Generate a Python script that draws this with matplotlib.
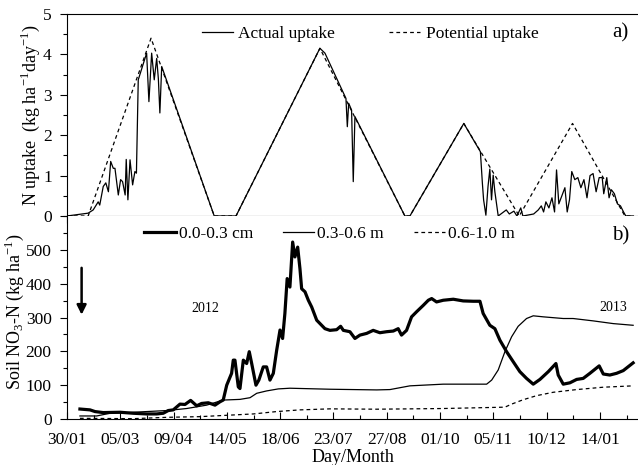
import numpy as np
import matplotlib
matplotlib.use("Agg")
from matplotlib import pyplot as plt
from matplotlib.ticker import MultipleLocator

plt.rcParams['font.family'] = ['Liberation Serif', 'DejaVu Serif']
plt.rcParams['mathtext.fontset'] = 'custom'
plt.rcParams['mathtext.rm'] = 'Liberation Serif'

# days after 30/01/2012
date_ticks = [0, 35, 70, 105, 140, 175, 210, 245, 280, 315, 350]
date_labels = ['30/01', '05/03', '09/04', '14/05', '18/06', '23/07',
               '27/08', '01/10', '05/11', '10/12', '14/01']

# a) N uptake (kg ha-1 day-1)
pot_day = [0, 13.9, 55.2, 96.7, 111.0, 166.1, 221.9, 225.2, 260.6, 297.0, 332.0, 366.4, 372]
pot_val = [0, 0, 4.4, 0, 0, 4.15, 0, 0, 2.29, 0, 2.29, 0, 0]

act_day = [0, 13.9, 17.2, 20.5, 21.5, 23.8, 25.5, 27.2, 28.7, 30.4, 31.5, 33.7, 35.2,
           36.5, 38.2, 38.9, 40.0, 41.4, 43.1, 44.6, 45.6, 46.8, 52.3, 53.8, 55.6,
           57.3, 58.9, 60.0, 61.0, 62.2, 96.7, 111.0, 166.1, 169.4, 183.2, 184.1,
           185.0, 186.9, 188.0, 189.1, 221.9, 225.2, 260.6, 271.5, 272.8, 273.6,
           275.1, 276.5, 277.7, 278.8, 279.9, 281.0, 283.2, 288.5, 290.5, 293.5,
           295.5, 298.0, 299.4, 306.5, 309.5, 311.5, 313.0, 314.5, 316.5, 318.5,
           320.2, 321.5, 323.0, 325.0, 327.0, 328.5, 330.0, 331.5, 333.5, 335.5,
           337.5, 339.5, 341.5, 343.5, 345.5, 347.5, 349.5, 351.5, 352.5, 354.5,
           356.0, 357.5, 359.5, 361.5, 363.5, 365.5, 367.0, 372]
act_val = [0, 0.07, 0.15, 0.35, 0.27, 0.73, 0.82, 0.6, 1.35, 1.18, 1.18, 0.52, 0.9,
           0.85, 0.52, 1.4, 0.4, 1.39, 0.77, 1.1, 1.06, 3.37, 4.03, 2.83, 4.03,
           3.37, 3.9, 3.4, 2.55, 3.7, 0, 0, 4.15, 4.03, 2.91, 2.21,
           2.79, 2.62, 0.85, 2.46, 0, 0, 2.29, 1.59, 0.81, 0.4,
           0.02, 0.73, 1.16, 0.4, 1.01, 0.6, 0.0, 0.15, 0.05, 0.12,
           0.0, 0.2, 0.0, 0.05, 0.15, 0.25, 0.1, 0.35, 0.2, 0.45,
           0.1, 1.14, 0.3, 0.5, 0.7, 0.1, 0.4, 1.1, 0.9, 0.95,
           0.7, 0.9, 0.45, 1.0, 1.05, 0.6, 0.95, 0.95, 0.55, 0.95,
           0.45, 0.65, 0.55, 0.3, 0.25, 0.1, 0.0, 0.0]

# b) soil NO3-N (kg ha-1)
top_day = [8.5, 15.1, 18.4, 23.8, 34.8, 43.5, 52.3, 58.9, 63.2, 66.5, 69.8, 74.2,
           77.5, 81.2, 85.2, 88.4, 92.8, 97.2, 100.5, 102.6, 104.9, 108.1, 109.2,
           110.3, 112.5, 113.6, 115.8, 118.0, 119.7, 121.3, 124.1, 126.0, 128.9,
           131.1, 133.3, 135.5, 137.7, 139.9, 141.6, 143.1, 144.6, 146.4, 148.2,
           149.7, 151.5, 153.0, 154.1, 156.3, 158.5, 160.7, 164.0, 169.4, 172.7,
           177.1, 179.7, 181.5, 185.8, 189.1, 192.4, 196.8, 201.1, 205.5, 209.9,
           214.3, 217.5, 219.7, 223.0, 226.3, 229.6, 234.0, 237.3, 239.5, 242.7,
           247.1, 253.7, 260.2, 266.8, 271.2, 273.3, 277.7, 281.0, 284.3, 288.7,
           293.1, 297.4, 301.8, 306.2, 310.6, 316.1, 321.1, 322.6, 325.9, 330.3,
           334.7, 339.0, 343.4, 349.5, 352.2, 356.5, 360.9, 365.3, 371.8]
top_val = [29.5, 27, 22, 19, 20, 17, 15, 15, 17, 25, 27, 44,
           43, 55, 39, 46, 48, 41, 51, 56, 100, 135, 174,
           174, 95, 90, 174, 164, 199, 164, 100, 115, 154,
           154, 115, 135, 203, 263, 238, 312, 415, 390, 523,
           479, 508, 444, 385, 376, 351, 331, 292, 267, 262,
           264, 274, 262, 258, 238, 248, 253, 262, 255, 258,
           260, 267, 248, 262, 302, 317, 336, 351, 356, 346,
           351, 354, 349, 348, 348, 312, 277, 267, 233, 199,
           169, 140, 120, 103, 117, 140, 164, 130, 103, 107,
           117, 120, 135, 157, 133, 130, 135, 143, 166]

mid_day = [8.5, 19.5, 28.2, 39.2, 52.3, 65.5, 78.6, 91.7, 102.6, 113.6, 120.2,
           124.6, 131.1, 138.8, 146.4, 172.7, 203.4, 212.1, 225.2, 247.1, 262.4,
           275.6, 278.9, 283.2, 287.6, 292.0, 296.3, 301.8, 306.2, 312.7, 325.9,
           332.4, 345.6, 358.7, 371.8]
mid_val = [9, 9, 17, 19, 22, 25, 31, 41, 56, 58, 63,
           76, 83, 89, 91, 88, 86, 87, 98, 103, 103,
           103, 115, 145, 199, 243, 274, 297, 305, 302, 297,
           297, 290, 282, 277]

deep_day = [8.5, 43.5, 65.5, 87.5, 104.9, 122.4, 137.7, 153.0, 172.7, 203.4,
            247.1, 287.6, 292.0, 299.6, 308.4, 319.3, 334.7, 352.2, 371.8]
deep_val = [2, 1, 5, 7, 11, 15, 22, 27, 30, 29,
            31, 35, 44, 57, 69, 79, 87, 94, 98]

xmax = 375

fig = plt.figure(figsize=(6.38, 4.65), dpi=100)
ax1 = fig.add_axes([0.105, 0.5355, 0.895, 0.4345])
ax2 = fig.add_axes([0.105, 0.0989, 0.895, 0.4366])

# top panel
ax1.plot(pot_day, pot_val, color='black', lw=0.9, linestyle=(0, (3, 2.5)), label='Potential uptake')
ax1.plot(act_day, act_val, color='black', lw=0.9, label='Actual uptake')
ax1.set_xlim(0, xmax)
ax1.set_ylim(0, 5)
ax1.xaxis.set_major_locator(MultipleLocator(30))
ax1.xaxis.set_minor_locator(MultipleLocator(15))
ax1.yaxis.set_major_locator(MultipleLocator(1))
ax1.yaxis.set_minor_locator(MultipleLocator(0.5))
ax1.tick_params(axis='x', which='both', direction='out', labelbottom=False)
ax1.tick_params(which='major', length=5, width=0.8)
ax1.tick_params(which='minor', length=3, width=0.8)
ax1.tick_params(axis='y', labelsize=12.5, pad=6)
ax1.spines['right'].set_visible(False)
ax1.set_ylabel('N uptake  (kg ha$^{-1}$day$^{-1}$)', fontsize=13)
ax1.yaxis.set_label_coords(-0.044, 0.5)
h, l = ax1.get_legend_handles_labels()
ax1.legend([h[1], h[0]], [l[1], l[0]], ncol=2, frameon=False, fontsize=12.5,
           loc='upper left', bbox_to_anchor=(0.215, 1.0), handlelength=1.8,
           handletextpad=0.3, columnspacing=3.1, borderaxespad=0.3)
ax1.text(0.97, 0.905, 'a)', transform=ax1.transAxes, ha='center', va='center', fontsize=15)

# bottom panel
ax2.plot(top_day, top_val, color='black', lw=2.3, label='0.0-0.3 cm')
ax2.plot(mid_day, mid_val, color='black', lw=0.9, label='0.3-0.6 m')
ax2.plot(deep_day, deep_val, color='black', lw=0.9, linestyle=(0, (3, 2.5)), label='0.6-1.0 m')
ax2.set_xlim(0, xmax)
ax2.set_ylim(0, 600)
ax2.set_yticks([0, 100, 200, 300, 400, 500])
ax2.yaxis.set_minor_locator(MultipleLocator(50))
ax2.set_xticks(date_ticks)
ax2.set_xticklabels(date_labels)
ax2.xaxis.set_minor_locator(MultipleLocator(17.5))
ax2.tick_params(axis='x', which='both', direction='in', pad=9)
ax2.tick_params(which='major', length=5, width=0.8)
ax2.tick_params(which='minor', length=3, width=0.8)
ax2.tick_params(labelsize=12.5)
ax2.tick_params(axis='y', pad=6)
ax2.spines['right'].set_visible(False)
ax2.spines['top'].set_visible(False)
ax2.set_ylabel('Soil NO$_3$-N (kg ha$^{-1}$)', fontsize=13)
ax2.yaxis.set_label_coords(-0.072, 0.53)
ax2.set_xlabel('Day/Month', fontsize=13, labelpad=1)
ax2.legend(ncol=3, frameon=False, fontsize=12.5, loc='upper left',
           bbox_to_anchor=(0.108, 1.03), handlelength=1.8, handletextpad=0.2,
           columnspacing=1.7)
ax2.text(0.97, 0.9, 'b)', transform=ax2.transAxes, ha='center', va='center', fontsize=15)
ax2.annotate('', xy=(9.6, 300), xytext=(9.6, 455),
             arrowprops=dict(arrowstyle='-|>', color='black', lw=1.8, mutation_scale=14))
ax2.text(90.6, 327, '2012', fontsize=10, ha='center', va='center')
ax2.text(358.5, 330, '2013', fontsize=10, ha='center', va='center')

fig.savefig('out.png', dpi=100)
